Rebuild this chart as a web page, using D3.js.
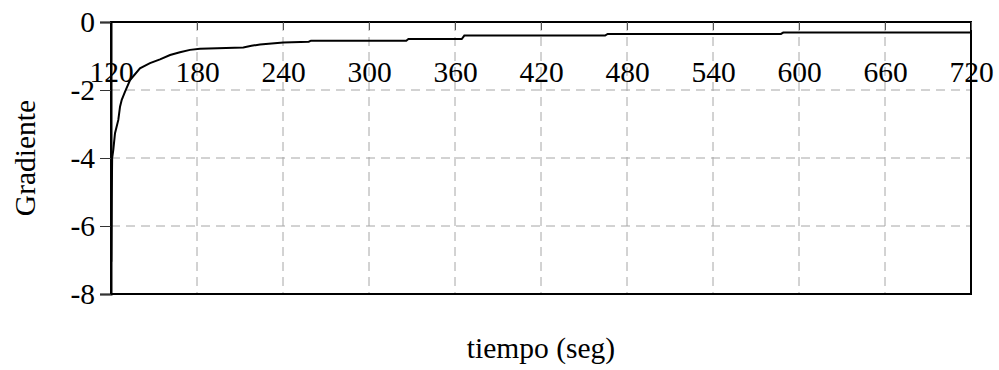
<!DOCTYPE html>
<html>
<head>
<meta charset="utf-8">
<script src="https://cdn.jsdelivr.net/npm/d3@7"></script>
<style>
  body { margin: 0; background: #fff; }
  svg { display: block; font-family: "Liberation Serif", "Times New Roman", serif; }
</style>
</head>
<body>
<div id="chart"></div>
<script>
// gradient vs. time
const tiempo = [120.2, 120.5, 120.8, 121.6, 122.8, 125.1, 126.3, 127.5, 129.8, 133.3, 140.2, 147.2,
  154.2, 161.2, 168.1, 175.1, 182.1, 212.3, 218, 224, 240.2, 258, 259.5, 326, 327.5,
  364.7, 366.5, 464.7, 466.5, 587.4, 589, 720];
const gradiente = [-7.05, -5.2, -4.0, -3.76, -3.27, -2.88, -2.49, -2.29, -2.05, -1.71, -1.36, -1.21,
  -1.10, -0.97, -0.89, -0.82, -0.79, -0.75, -0.70, -0.66, -0.60, -0.58, -0.55, -0.55, -0.50,
  -0.50, -0.40, -0.40, -0.35, -0.35, -0.31, -0.31];
const xTicks = [120, 180, 240, 300, 360, 420, 480, 540, 600, 660, 720];
const yTicks = [0, -2, -4, -6, -8];

const width = 999, height = 370;
const margin = {top: 22, right: 28, bottom: 76, left: 111};
const fontSize = 29.5;

const svg = d3.select('#chart').append('svg')
  .attr('width', width)
  .attr('height', height);

const x = d3.scaleLinear().domain([120, 720]).range([margin.left, width - margin.right]);
const y = d3.scaleLinear().domain([-8, 0]).range([height - margin.bottom, margin.top]);

// dashed grid
const grid = svg.append('g')
  .attr('stroke', '#a6a6a6')
  .attr('stroke-width', 1)
  .attr('stroke-dasharray', '9,6');
grid.selectAll('.gx')
  .data(xTicks.slice(1, -1))
  .enter().append('line')
  .attr('x1', d => x(d)).attr('x2', d => x(d))
  .attr('y1', y(0)).attr('y2', y(-8));
grid.selectAll('.gy')
  .data(yTicks.slice(1, -1))
  .enter().append('line')
  .attr('x1', x(120)).attr('x2', x(720))
  .attr('y1', d => y(d)).attr('y2', d => y(d));

// frame
svg.append('rect')
  .attr('x', x(120)).attr('y', y(0))
  .attr('width', x(720) - x(120))
  .attr('height', y(-8) - y(0))
  .attr('fill', 'none')
  .attr('stroke', '#000')
  .attr('stroke-width', 2);

// x axis sits on y = 0, ticks inward, labels below
const xAxis = svg.append('g')
  .attr('transform', `translate(0,${y(0)})`)
  .call(d3.axisBottom(x).tickValues(xTicks).tickFormat(d => String(d))
    .tickSize(8).tickPadding(31));
xAxis.select('.domain').remove();
xAxis.selectAll('line').attr('stroke', '#555');
xAxis.selectAll('text')
  .attr('font-family', '"Liberation Serif", serif')
  .attr('font-size', fontSize)
  .attr('fill', '#000');

const yAxis = svg.append('g')
  .attr('transform', `translate(${x(120)},0)`)
  .call(d3.axisLeft(y).tickValues(yTicks).tickFormat(d => String(d))
    .tickSize(11).tickPadding(5));
yAxis.select('.domain').attr('stroke-width', 2);
yAxis.selectAll('line').attr('stroke', '#333');
yAxis.selectAll('text')
  .attr('font-family', '"Liberation Serif", serif')
  .attr('font-size', fontSize)
  .attr('fill', '#000');

// curve
const line = d3.line()
  .x((d, i) => x(tiempo[i]))
  .y(d => y(d));
svg.append('path')
  .datum(gradiente)
  .attr('fill', 'none')
  .attr('stroke', '#000')
  .attr('stroke-width', 2)
  .attr('d', line);

// titles
svg.append('text')
  .attr('x', (x(120) + x(720)) / 2)
  .attr('y', 358)
  .attr('text-anchor', 'middle')
  .attr('font-size', fontSize)
  .text('tiempo (seg)');

svg.append('text')
  .attr('transform', `translate(35,${(y(0) + y(-8)) / 2}) rotate(-90)`)
  .attr('text-anchor', 'middle')
  .attr('font-size', fontSize)
  .text('Gradiente');
</script>
</body>
</html>
